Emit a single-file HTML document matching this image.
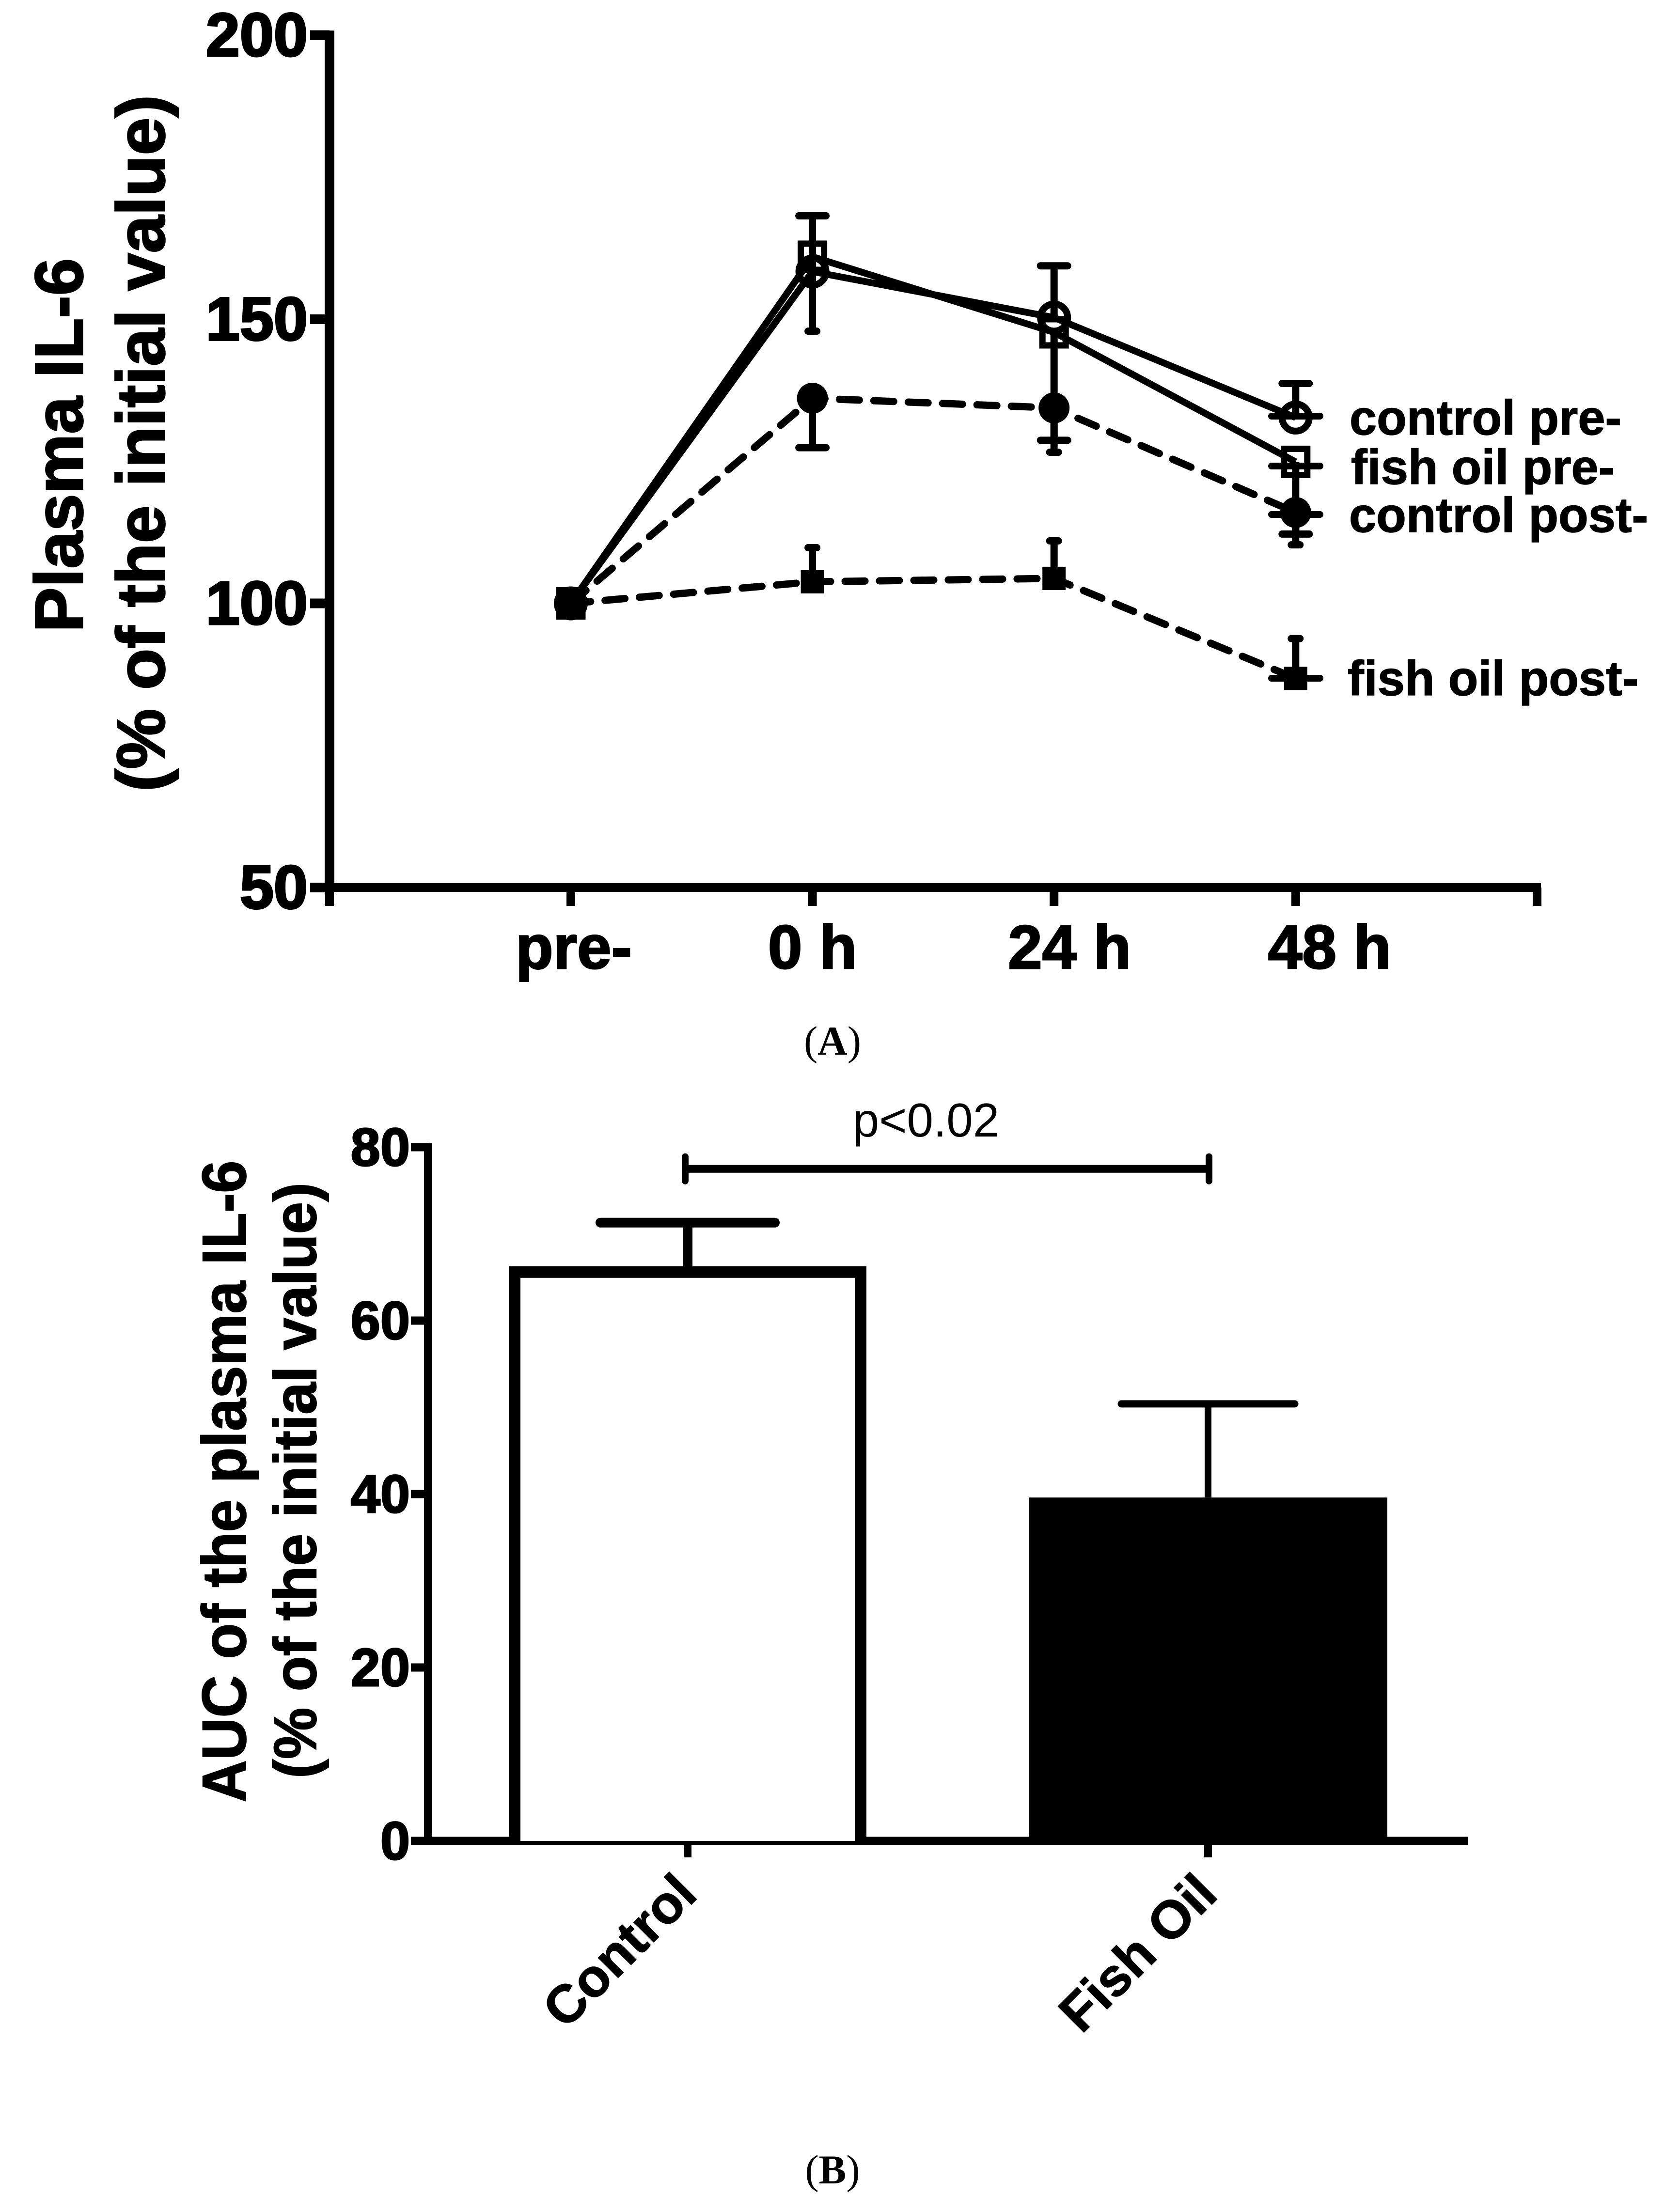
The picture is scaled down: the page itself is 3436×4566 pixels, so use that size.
<!DOCTYPE html>
<html lang="en">
<head>
<meta charset="utf-8">
<title>Plasma IL-6 figure</title>
<style>
html,body{margin:0;padding:0;background:#fff;}
svg{display:block;position:absolute;left:0;top:0;}
text{font-family:"Liberation Sans",sans-serif;fill:#000;}
.b{font-weight:bold;}
.serif{font-family:"Liberation Serif",serif;}
</style>
</head>
<body>
<svg id="fig" xmlns="http://www.w3.org/2000/svg" width="3436" height="4566" viewBox="0 0 3436 4566">
  <rect x="0" y="0" width="3436" height="4566" fill="#fff"/>
  <g id="panelA"></g>
  <g id="panelB"></g>
  <text class="b" transform="translate(170 919) rotate(-90)" text-anchor="middle" font-size="140" stroke="#000" stroke-width="3" textLength="772" lengthAdjust="spacingAndGlyphs">Plasma IL-6</text>
  <text class="b" transform="translate(339 915) rotate(-90)" text-anchor="middle" font-size="140" stroke="#000" stroke-width="3" textLength="1438" lengthAdjust="spacingAndGlyphs">(% of the initial value)</text>
  <text class="serif" x="1718" y="2177" text-anchor="middle" font-size="85">(<tspan font-weight="bold">A</tspan>)</text>
  <text class="b" transform="translate(507 3058) rotate(-90)" text-anchor="middle" font-size="128" stroke="#000" stroke-width="2" textLength="1325" lengthAdjust="spacingAndGlyphs">AUC of the plasma IL-6</text>
  <text class="b" transform="translate(652 3056) rotate(-90)" text-anchor="middle" font-size="124" stroke="#000" stroke-width="2" textLength="1230" lengthAdjust="spacingAndGlyphs">(% of the initial value)</text>
  <text class="serif" x="1718" y="4507" text-anchor="middle" font-size="85">(<tspan font-weight="bold">B</tspan>)</text>
  <text x="1911" y="2346" text-anchor="middle" font-size="98">p&lt;0.02</text>
</svg>
<script>
// ---------- Panel A data ----------
const timeLabels = ['pre-', '0 h', '24 h', '48 h'];
const yTicksA = [50, 100, 150, 200];
const controlPre = [100, 158.4, 150.3, 132.7];
const controlPreUpper = [null, 168.2, 159.4, 138.7];
const fishOilPre = [100, 161, 147.7, 124.9];
const fishOilPreLower = [null, 147.9, 126.6, 110.3];
const controlPost = [100, 136.1, 134.4, 116];
const controlPostLower = [null, 127.4, 128.7, 112.2];
const fishOilPost = [100, 103.8, 104.4, 86.8];
const fishOilPostUpper = [null, 109.8, 111, 93.8];
const legendLabels = ['control pre-', 'fish oil pre-', 'control post-', 'fish oil post-'];

// ---------- Panel B data ----------
const groupLabels = ['Control', 'Fish Oil'];
const yTicksB = [0, 20, 40, 60, 80];
const aucMeans = [65.6, 39.6];
const aucUpper = [71.3, 50.4];
const significanceLevel = 77.5;

const NS = 'http://www.w3.org/2000/svg';
function mk(parent, tag, attrs, txt) {
  const e = document.createElementNS(NS, tag);
  for (const k in attrs) e.setAttribute(k, attrs[k]);
  if (txt !== undefined) e.textContent = txt;
  parent.appendChild(e);
  return e;
}

// ---------- Panel A ----------
const A = document.getElementById('panelA');
const yA = v => 1832 - (v - 50) * 11.73;
const xA = i => 1178 + i * 498.6;

const axisYA = mk(A, 'line', {x1: 680, y1: 63, x2: 680, y2: 1841, stroke: '#000', 'stroke-width': 20});


const axisXA = mk(A, 'line', {x1: 670, y1: 1832, x2: 3180, y2: 1832, stroke: '#000', 'stroke-width': 18});



yTicksA.forEach(t => {
  const tk = mk(A, 'line', {x1: 640, y1: yA(t), x2: 680, y2: yA(t), stroke: '#000', 'stroke-width': 20});
  
  
  const lb = mk(A, 'text', {x: 635, y: yA(t) + 43, 'text-anchor': 'end', 'font-size': 126, 'font-weight': 'bold', stroke: '#000', 'stroke-width': 4}, String(t));
  
  
});

const xEnds = [680, 3172];
xEnds.forEach(x => {
  const tk = mk(A, 'line', {x1: x, y1: 1832, x2: x, y2: 1870, stroke: '#000', 'stroke-width': 18});
  
  
});
const xLabelOffsets = [6, 0, 32, 70];
timeLabels.forEach((t, i) => {
  const tk = mk(A, 'line', {x1: xA(i), y1: 1832, x2: xA(i), y2: 1870, stroke: '#000', 'stroke-width': 18});
  
  
  const lb = mk(A, 'text', {x: xA(i) + xLabelOffsets[i], y: 1999, 'text-anchor': 'middle', 'font-size': 127, 'font-weight': 'bold', stroke: '#000', 'stroke-width': 3}, t);
  
  
});

function series(name, vals, dashed) {
  const pts = vals.map((v, i) => xA(i) + ',' + yA(v)).join(' ');
  const attrs = {points: pts, fill: 'none', stroke: '#000', 'stroke-width': dashed ? 15 : 14, 'stroke-linejoin': 'round'};
  if (dashed) {
    attrs['stroke-dasharray'] = '41 30';
    attrs['stroke-linecap'] = 'round';
  }
  const l = mk(A, 'polyline', attrs);
  
  
}
function errs(name, vals, ends, capHalf) {
  vals.forEach((v, i) => {
    if (ends[i] === null) return;
    const s = mk(A, 'line', {x1: xA(i), y1: yA(v), x2: xA(i), y2: yA(ends[i]), stroke: '#000', 'stroke-width': 15});
    
    
    const c = mk(A, 'line', {x1: xA(i) - capHalf, y1: yA(ends[i]), x2: xA(i) + capHalf, y2: yA(ends[i]), stroke: '#000', 'stroke-width': 15, 'stroke-linecap': 'round'});
    
    
  });
}

series('control-pre', controlPre, false);
series('fish-oil-pre', fishOilPre, false);
series('control-post', controlPost, true);
series('fish-oil-post', fishOilPost, true);
errs('control-pre', controlPre, controlPreUpper, 28);
errs('fish-oil-pre', fishOilPre, fishOilPreLower, 9);
errs('control-post', controlPost, controlPostLower, 28);
errs('fish-oil-post', fishOilPost, fishOilPostUpper, 9);

fishOilPre.forEach((v, i) => {
  const m = mk(A, 'rect', {x: xA(i) - 24, y: yA(v) - 27, width: 48, height: 54, fill: 'none', stroke: '#000', 'stroke-width': 13});
  
  
});
controlPre.forEach((v, i) => {
  const m = mk(A, 'circle', {cx: xA(i), cy: yA(v), r: 28, fill: 'none', stroke: '#000', 'stroke-width': 14});
  
  
});
fishOilPost.forEach((v, i) => {
  const m = mk(A, 'rect', {x: xA(i) - 24, y: yA(v) - 24, width: 48, height: 48, fill: '#000'});
  
  
});
controlPost.forEach((v, i) => {
  const m = mk(A, 'circle', {cx: xA(i), cy: yA(v), r: 32, fill: '#000'});
  
  
});

const legendMarkY = [859, 962, 1062, 1400];
const legendTextX = [2785, 2788, 2784, 2781];
const legendTextY = [897, 999, 1098, 1435];
legendLabels.forEach((t, i) => {
  const d = mk(A, 'line', {x1: 2624, y1: legendMarkY[i], x2: 2724, y2: legendMarkY[i], stroke: '#000', 'stroke-width': 14, 'stroke-linecap': 'round'});
  
  
  const lb = mk(A, 'text', {x: legendTextX[i], y: legendTextY[i], 'font-size': 101, 'font-weight': 'bold', stroke: '#000', 'stroke-width': 1.5}, t);
  
  
});

// ---------- Panel B ----------
const B = document.getElementById('panelB');
const yB = v => 3800 - v * 17.9;
const xB = i => 1419 + i * 1074;

const barLeft = [1062, 2123];
const barWidth = [714, 740];
const errStyle = [{half: 180, capW: 20, stem: 20}, {half: 179, capW: 15, stem: 14}];

const axisYB = mk(B, 'line', {x1: 883.5, y1: 2360, x2: 883.5, y2: 3808, stroke: '#000', 'stroke-width': 17});


const axisXB = mk(B, 'line', {x1: 875, y1: 3800, x2: 3029, y2: 3800, stroke: '#000', 'stroke-width': 17});



yTicksB.forEach(t => {
  const tk = mk(B, 'line', {x1: 848, y1: yB(t), x2: 884, y2: yB(t), stroke: '#000', 'stroke-width': 17});
  
  
  const lb = mk(B, 'text', {x: 846, y: yB(t) + 38, 'text-anchor': 'end', 'font-size': 110, 'font-weight': 'bold', stroke: '#000', 'stroke-width': 3}, String(t));
  
  
});

aucMeans.forEach((v, i) => {
  const es = errStyle[i];
  const stem = mk(B, 'line', {x1: xB(i), y1: yB(v), x2: xB(i), y2: yB(aucUpper[i]), stroke: '#000', 'stroke-width': es.stem});
  
  
  const cap = mk(B, 'line', {x1: xB(i) - es.half, y1: yB(aucUpper[i]), x2: xB(i) + es.half, y2: yB(aucUpper[i]), stroke: '#000', 'stroke-width': es.capW, 'stroke-linecap': 'round'});
  
  
  let bar;
  if (i === 0) {
    bar = mk(B, 'path', {d: 'M' + barLeft[i] + ' ' + yB(0) + 'V' + yB(v) + 'H' + (barLeft[i] + barWidth[i]) + 'V' + yB(0), fill: '#fff', stroke: '#000', 'stroke-width': 24, 'stroke-linejoin': 'miter'});
    
  } else {
    bar = mk(B, 'rect', {x: barLeft[i], y: yB(v), width: barWidth[i], height: yB(0) - yB(v) + 8, fill: '#000'});
    
  }
  
  const tk = mk(B, 'line', {x1: xB(i), y1: 3800, x2: xB(i), y2: 3834, stroke: '#000', 'stroke-width': 16});
  
  
  const lb = mk(B, 'text', {transform: 'translate(' + (xB(i) + 24) + ' 3915) rotate(-45)', 'text-anchor': 'end', 'font-size': 110, 'font-weight': 'bold', stroke: '#000', 'stroke-width': 1.5}, groupLabels[i]);
  
  
});

const brY = yB(significanceLevel);
const brLine = mk(B, 'line', {x1: xB(0) - 5, y1: brY, x2: xB(1) + 2, y2: brY, stroke: '#000', 'stroke-width': 16});


[xB(0) - 5, xB(1) + 2].forEach(x => {
  const c = mk(B, 'line', {x1: x, y1: brY - 25, x2: x, y2: brY + 25, stroke: '#000', 'stroke-width': 14, 'stroke-linecap': 'round'});
  
  
});
</script>
</body>
</html>
